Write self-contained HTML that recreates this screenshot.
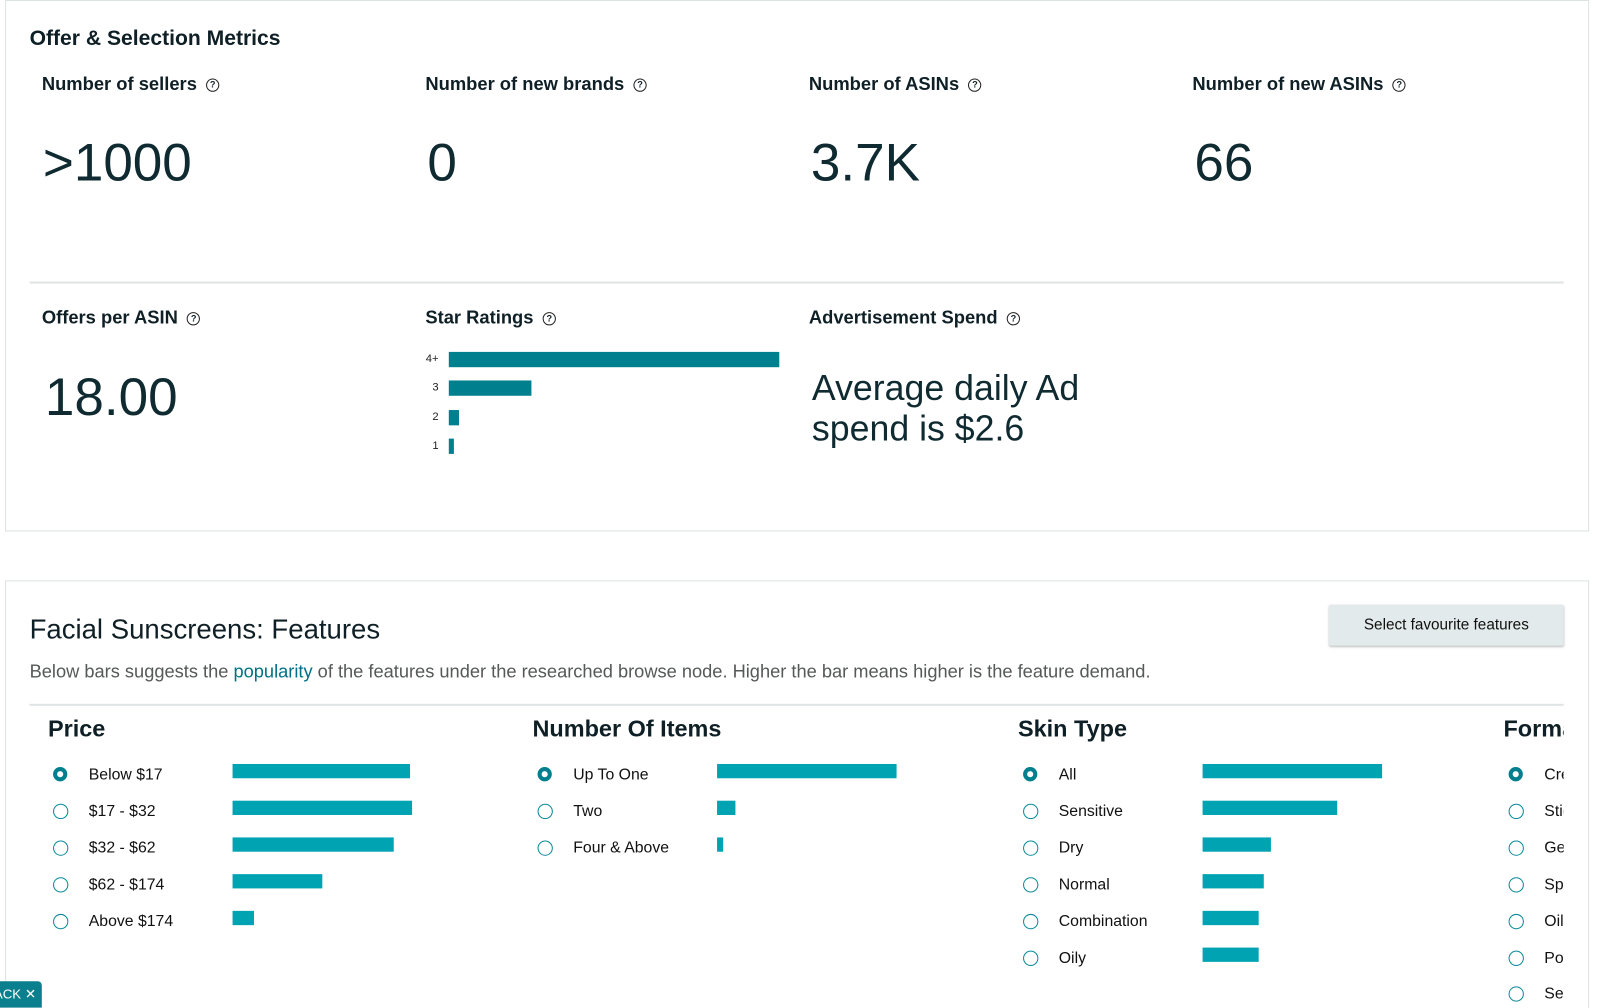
<!DOCTYPE html>
<html><head><meta charset="utf-8"><style>
html,body{margin:0;padding:0;background:#fff;width:1600px;height:1008px;overflow:hidden}
#root{position:absolute;left:0;top:0;width:1569px;height:988px;overflow:hidden;transform:scale(1.02,1.02);transform-origin:0 0;font-family:"Liberation Sans",sans-serif;color:#0f1f26}
.abs{position:absolute;white-space:nowrap}
.card{position:absolute;border:1px solid #dde2e2;background:#fff}
.lbl{font-weight:bold;font-size:18px;line-height:20px}
.q{display:inline-block;width:11px;height:11px;border:1.3px solid #222;border-radius:50%;font-size:9px;line-height:11px;text-align:center;font-weight:bold;margin-left:9px;vertical-align:2px}
.val{font-size:52px;line-height:56px;color:#0f2a30}
.radio{position:absolute;width:13px;height:13px;border:1.6px solid #0a8a9a;border-radius:50%;box-sizing:content-box}
.radio.on{border:4.5px solid #007f8f;width:6px;height:6px}
.opt{font-size:15.5px;color:#111;position:absolute;line-height:18px;white-space:nowrap}
.fbar{position:absolute;height:14px;background:#00a3b1}
.sbar{position:absolute;height:15px;background:#007f8f}
</style></head><body>
<div id="root">
<div class="card" style="left:5px;top:0;width:1551px;height:519px">
</div>
<div class="abs" style="left:29px;top:26px;font-weight:bold;font-size:20.7px">Offer &amp; Selection Metrics</div>

<div class="abs lbl" style="left:41px;top:72px">Number of sellers<span class="q">?</span></div>
<div class="abs lbl" style="left:417px;top:72px">Number of new brands<span class="q">?</span></div>
<div class="abs lbl" style="left:793px;top:72px">Number of ASINs<span class="q">?</span></div>
<div class="abs lbl" style="left:1169px;top:72px">Number of new ASINs<span class="q">?</span></div>

<div class="abs val" style="left:42px;top:132px">&gt;1000</div>
<div class="abs val" style="left:419px;top:132px">0</div>
<div class="abs val" style="left:795px;top:132px">3.7K</div>
<div class="abs val" style="left:1171px;top:132px">66</div>

<div class="abs" style="left:29px;top:276px;width:1504px;height:1.5px;background:#e0e4e4"></div>

<div class="abs lbl" style="left:41px;top:301px">Offers per ASIN<span class="q">?</span></div>
<div class="abs lbl" style="left:417px;top:301px">Star Ratings<span class="q">?</span></div>
<div class="abs lbl" style="left:793px;top:301px">Advertisement Spend<span class="q">?</span></div>
<div class="abs val" style="left:44px;top:362px">18.00</div>
<div class="abs" style="left:796px;top:361px;font-size:35px;line-height:40px;color:#0f2a30">Average daily Ad<br>spend is $2.6</div>

<div id="stars"></div>

<div class="card" style="left:5px;top:569px;width:1551px;height:420px;border-bottom:none"></div>
<div class="abs" style="left:29px;top:601px;font-size:27px;line-height:32px;color:#0f1f26">Facial Sunscreens: Features</div>
<div class="abs" style="left:1303px;top:593px;width:230px;height:40px;background:#e3eaeb;border-radius:2px;box-shadow:0 1px 2px rgba(0,0,0,.25);font-size:15px;line-height:40px;text-align:center;color:#111">Select favourite features</div>
<div class="abs" style="left:29px;top:648px;font-size:17.9px;color:#565959">Below bars suggests the <span style="color:#007185">popularity</span> of the features under the researched browse node. Higher the bar means higher is the feature demand.</div>
<div class="abs" style="left:29px;top:690px;width:1504px;height:1.5px;background:#e0e4e4"></div>

<div id="features" class="abs" style="left:0;top:0;width:1533px;height:988px;overflow:hidden"></div>

<div class="abs" style="left:0;top:962px;width:41px;height:26px;background:#0a7f8d;border-radius:0 4px 0 0;color:#fff;font-size:13px;line-height:26px;overflow:hidden"><span style="margin-left:-6px">ACK ✕</span></div>
</div>
<script>
const starLabels = ["4+","3","2","1"];
const starValues = [100, 25, 3.2, 1.6];

const priceLabels = ["Below $17","$17 - $32","$32 - $62","$62 - $174","Above $174"];
const priceValues = [99, 100, 90, 50, 12];
const itemLabels = ["Up To One","Two","Four & Above"];
const itemValues = [100, 10, 3.5];
const skinLabels = ["All","Sensitive","Dry","Normal","Combination","Oily"];
const skinValues = [100, 75, 38, 34, 31, 31];
const formLabels = ["Cream","Stick","Gel","Spray","Oil","Powder","Serum"];
const formValues = [100, 60, 40, 30, 20, 15, 10];

const stars = document.getElementById('stars');
const sx = v => v / 100 * 324;
starLabels.forEach((l, i) => {
  const y = 345 + i * 28.3;
  const t = document.createElement('div');
  
  
  t.className = 'abs';
  t.style.cssText = `left:400px;width:30px;text-align:right;top:${y}px;font-size:11px;line-height:15px;color:#222`;
  t.textContent = l;
  stars.appendChild(t);
  const b = document.createElement('div');
  
  
  b.className = 'sbar';
  b.style.left = '440px'; b.style.top = y + 'px';
  b.style.width = sx(starValues[i]) + 'px';
  stars.appendChild(b);
});

const groups = [
  ["Price", priceLabels, priceValues, 47],
  ["Number Of Items", itemLabels, itemValues, 522],
  ["Skin Type", skinLabels, skinValues, 998],
  ["Format", formLabels, formValues, 1474]
];
const feat = document.getElementById('features');
const fx = v => v / 100 * 176;
groups.forEach(([title, labels, vals, x0]) => {
  const h = document.createElement('div');
  
  
  h.className = 'abs';
  h.style.cssText = `left:${x0}px;top:700px;font-size:23px;font-weight:bold;line-height:28px;color:#0f1f26`;
  h.textContent = title;
  feat.appendChild(h);
  labels.forEach((l, i) => {
    const y = 760 + i * 35.9;
    const r = document.createElement('div');
    
    
    r.className = 'radio' + (i === 0 ? ' on' : '');
    r.style.left = (x0 + 5) + 'px'; r.style.top = (y - 8) + 'px';
    feat.appendChild(r);
    const t = document.createElement('div');
    
    
    t.className = 'opt';
    t.style.left = (x0 + 40) + 'px'; t.style.top = (y - 9) + 'px';
    t.textContent = l;
    feat.appendChild(t);
    const b = document.createElement('div');
    
    
    b.className = 'fbar';
    b.style.left = (x0 + 181) + 'px'; b.style.top = (y - 11) + 'px';
    b.style.width = fx(vals[i]) + 'px';
    feat.appendChild(b);
  });
});
</script>
</body></html>
